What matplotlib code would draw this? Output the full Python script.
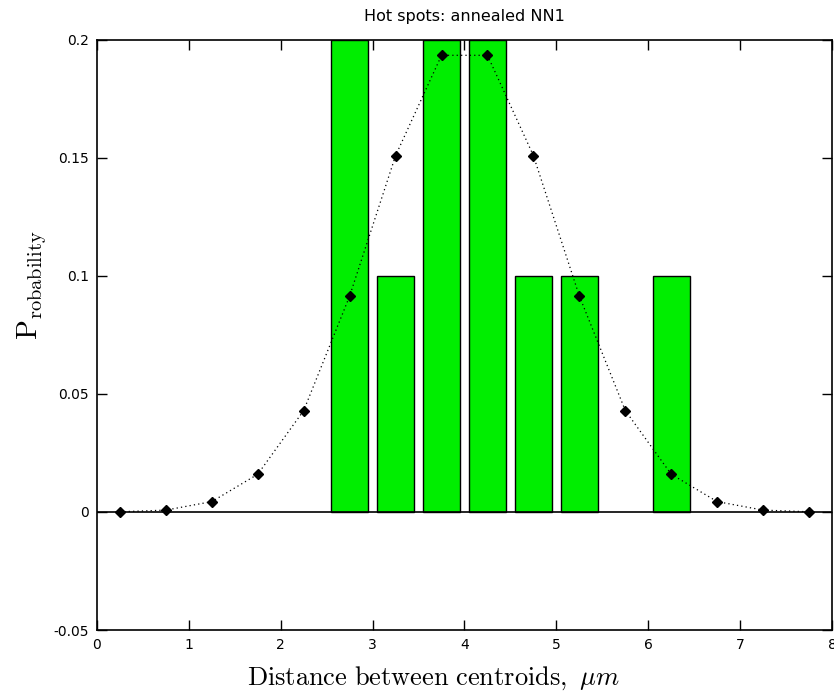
import matplotlib
matplotlib.use("Agg")
import matplotlib.pyplot as plt

# Histogram bars (bin centres, probabilities)
bar_centers = [2.75, 3.25, 3.75, 4.25, 4.75, 5.25, 6.25]
bar_heights = [0.2, 0.1, 0.2, 0.2, 0.1, 0.1, 0.1]

# Fitted distribution points
fit_x = [0.25, 0.75, 1.25, 1.75, 2.25, 2.75, 3.25, 3.75,
         4.25, 4.75, 5.25, 5.75, 6.25, 6.75, 7.25, 7.75]
fit_y = [0.0001, 0.0008, 0.0044, 0.016, 0.043, 0.0915, 0.151, 0.1935,
         0.1935, 0.151, 0.0915, 0.043, 0.016, 0.0044, 0.0008, 0.0001]

x_ticks = [0, 1, 2, 3, 4, 5, 6, 7, 8]
y_ticks = [-0.05, 0, 0.05, 0.1, 0.15, 0.2]
y_ticklabels = ["-0.05", "0", "0.05", "0.1", "0.15", "0.2"]

plt.rcParams['mathtext.fontset'] = 'cm'

fig = plt.figure(figsize=(8.34, 7.0), dpi=100)
ax = fig.add_axes([0.1163, 0.1, 0.8813, 0.8429])

ax.bar(bar_centers, bar_heights, width=0.4, color='#00ee00',
       edgecolor='black', linewidth=1.0, zorder=2)
ax.axhline(0, color='black', linewidth=1.2, zorder=3)
ax.plot(fit_x, fit_y, linestyle=(0, (1, 2.5)), color='black', linewidth=0.9,
        marker='D', markersize=5, markerfacecolor='black',
        markeredgecolor='black', zorder=4)

ax.set_xlim(0, 8)
ax.set_ylim(-0.05, 0.2)
ax.set_xticks(x_ticks)
ax.set_xticklabels([str(t) for t in x_ticks])
ax.set_yticks(y_ticks)
ax.set_yticklabels(y_ticklabels)
ax.tick_params(direction='in', length=7, width=1, top=True, right=True,
               labelsize=10, pad=6)
for s in ax.spines.values():
    s.set_linewidth(1.2)

ax.set_title('Hot spots: annealed NN1', fontsize=11.5, pad=14)
ax.set_xlabel(r'$\mathrm{Distance\ between\ centroids,}\ \mu m$', fontsize=19)
ax.xaxis.set_label_coords(0.458, -0.058)
ax.set_ylabel(r'$\mathrm{P_{robability}}$', fontsize=21)
ax.yaxis.set_label_coords(-0.066, 0.585)

fig.savefig('out.png', dpi=100)
